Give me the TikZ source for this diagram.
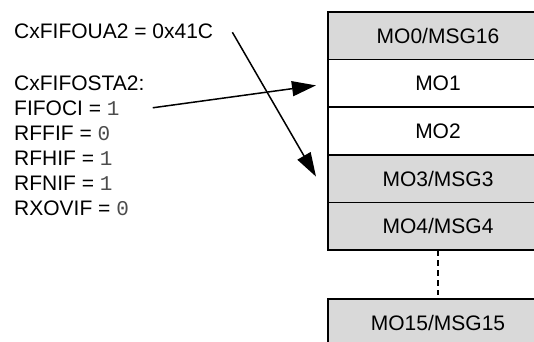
\documentclass[tikz,border=0pt]{standalone}
\usepackage{fontspec}
\setmainfont{Liberation Sans}
\newfontfamily\monofont{Liberation Mono}
\usetikzlibrary{positioning,arrows.meta}
\definecolor{gristab}{RGB}{217,217,217}
\newcommand{\valeur}[1]{{\monofont\color{black!70}#1}}
\tikzset{
  case/.style={draw,line width=1.6pt,minimum width=220pt,minimum height=47.6pt,
    outer sep=0pt,inner sep=0pt,font=\fontsize{21}{25}\selectfont},
  casegrise/.style={case,fill=gristab},
  texte/.style={anchor=base west,inner sep=0pt,font=\fontsize{21}{25}\selectfont},
  fleche/.style={line width=1.5pt,-{Triangle[length=24pt,width=15pt]}}
}
\begin{document}
\begin{tikzpicture}[x=1pt,y=-1pt]
    \useasboundingbox (0,0) rectangle (534,341);
    \clip (0,0) rectangle (534,341);

    % Registres
    \node[texte] (ua) at (14,38) {CxFIFOUA2 = 0x41C};
    \node[texte] (sta) at (14,90) {CxFIFOSTA2:};
    \node[texte] (fifoci) at (14,115) {FIFOCI = \valeur{1}};
    \node[texte] (rffif) at (14,140) {RFFIF = \valeur{0}};
    \node[texte] (rfhif) at (14,165) {RFHIF = \valeur{1}};
    \node[texte] (rfnif) at (14,190) {RFNIF = \valeur{1}};
    \node[texte] (rxovif) at (14,215) {RXOVIF = \valeur{0}};

    % Objets message
    \node[casegrise] (mo0) at (438,35.8) {MO0/MSG16};
    \node[case,below=0pt of mo0] (mo1) {MO1};
    \node[case,below=0pt of mo1] (mo2) {MO2};
    \node[casegrise,below=0pt of mo2] (mo3) {MO3/MSG3};
    \node[casegrise,below=0pt of mo3] (mo4) {MO4/MSG4};
    \node[casegrise,below=49pt of mo4] (mo15) {MO15/MSG15};

    \draw[line width=1.5pt,dash pattern=on 6pt off 4pt] (mo4.south) -- ([yshift=4pt]mo15.north);

    % Fleches
    \draw[fleche] ([xshift=33pt]fifoci.east) -- ([xshift=-12pt,yshift=-2pt]mo1.west);
    \draw[fleche] ([xshift=19pt,yshift=-1.5pt]ua.east) -- ([xshift=-12pt,yshift=2pt]mo3.west);

\end{tikzpicture}
\end{document}
